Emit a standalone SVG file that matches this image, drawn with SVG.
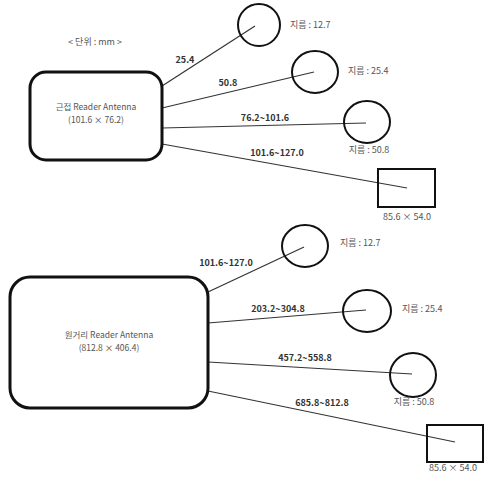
<svg xmlns="http://www.w3.org/2000/svg" width="493" height="479" viewBox="0 0 493 479">
<style>
.ant{fill:#fff;stroke:#111;stroke-width:3}
.tag{fill:none;stroke:#111;stroke-width:2}
.ln{stroke:#333;stroke-width:1.2;fill:none}
text{font-family:"Noto Sans CJK KR","Liberation Sans",sans-serif;font-size:9px;fill:#555;text-anchor:middle}
.s{font-size:8.5px}
.st{text-anchor:start}
.d{fill:#333;font-weight:bold}
</style>
<rect width="493" height="479" fill="#fff"/>
<text id="unit" x="95" y="45">&lt; 단위 : mm &gt;</text>
<g id="connectors">
<line class="ln" x1="162" y1="86" x2="255" y2="26"/>
<line class="ln" x1="162" y1="108" x2="314" y2="72"/>
<line class="ln" x1="162" y1="128" x2="366" y2="123"/>
<line class="ln" x1="162" y1="144" x2="407" y2="188"/>
<line class="ln" x1="208" y1="292" x2="304" y2="247"/>
<line class="ln" x1="208" y1="323" x2="366" y2="310"/>
<line class="ln" x1="208" y1="362" x2="412" y2="374"/>
<line class="ln" x1="208" y1="391" x2="455" y2="442"/>
<text class="d" x="185" y="63">25.4</text>
<text class="d" x="228" y="86">50.8</text>
<text class="d" x="265" y="121">76.2~101.6</text>
<text class="d" x="277" y="156">101.6~127.0</text>
<text class="d" x="226" y="266">101.6~127.0</text>
<text class="d" x="278" y="312">203.2~304.8</text>
<text class="d" x="305" y="361">457.2~558.8</text>
<text class="d" x="322" y="406">685.8~812.8</text>
</g>
<g id="near-antenna">
<rect class="ant" x="30" y="72" width="132" height="88" rx="16"/>
<text class="s" x="96" y="110">근접 Reader Antenna</text>
<text class="s" x="96" y="123">(101.6 × 76.2)</text>
</g>
<g id="far-antenna">
<rect class="ant" x="10" y="277" width="198" height="131" rx="20"/>
<text class="s" x="109" y="338">원거리 Reader Antenna</text>
<text class="s" x="109" y="351">(812.8 × 406.4)</text>
</g>
<g id="tag1">
<ellipse class="tag" cx="259" cy="25" rx="21" ry="21"/>
<text class="st" x="290" y="28">지름 : 12.7</text>
</g>
<g id="tag2">
<ellipse class="tag" cx="315" cy="72" rx="23" ry="21"/>
<text class="st" x="348" y="74">지름 : 25.4</text>
</g>
<g id="tag3">
<ellipse class="tag" cx="367" cy="122" rx="23" ry="21"/>
<text x="369" y="153">지름 : 50.8</text>
</g>
<g id="tag4">
<rect class="tag" x="378" y="169" width="57" height="38"/>
<text x="407" y="220">85.6 × 54.0</text>
</g>
<g id="tag5">
<ellipse class="tag" cx="305" cy="246" rx="23" ry="21"/>
<text class="st" x="340" y="246">지름 : 12.7</text>
</g>
<g id="tag6">
<ellipse class="tag" cx="367" cy="311" rx="24" ry="21"/>
<text class="st" x="402" y="312">지름 : 25.4</text>
</g>
<g id="tag7">
<ellipse class="tag" cx="413" cy="375" rx="23" ry="22"/>
<text x="414" y="405">지름 : 50.8</text>
</g>
<g id="tag8">
<rect class="tag" x="427" y="425" width="56" height="37"/>
<text x="453" y="471">85.6 × 54.0</text>
</g>
</svg>
